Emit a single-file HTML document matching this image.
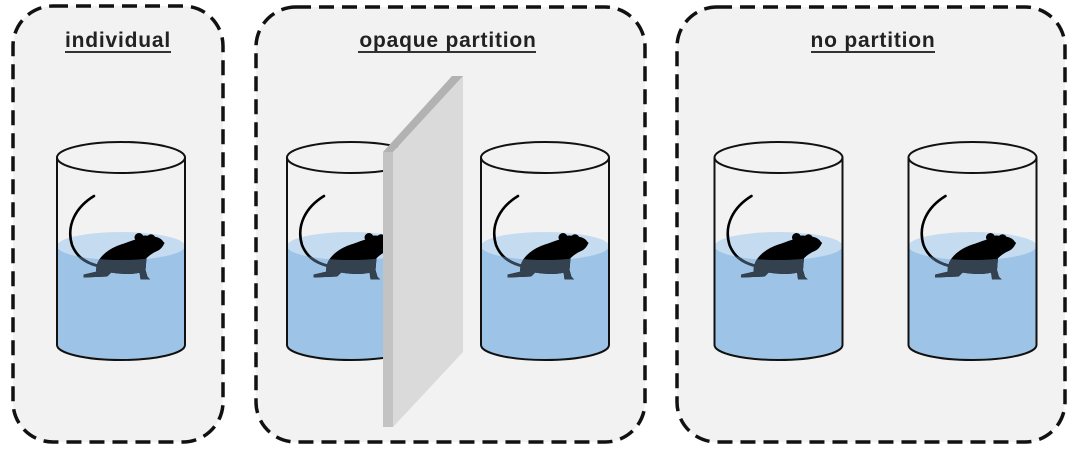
<!DOCTYPE html>
<html>
<head>
<meta charset="utf-8">
<style>
  html,body{margin:0;padding:0;background:#ffffff;}
  body{width:1076px;height:450px;overflow:hidden;}
  svg{display:block;}
  .t{font-family:"Liberation Sans",Arial,sans-serif;font-weight:bold;font-size:21px;fill:#222;letter-spacing:0.8px;}
</style>
</head>
<body>
<svg width="1076" height="450" viewBox="0 0 1076 450" xmlns="http://www.w3.org/2000/svg">
  <defs>
    <clipPath id="uw">
      <path d="M-64 246 A64 14 0 0 0 64 246 L64 345 A64 15 0 0 1 -64 345 Z"/>
    </clipPath>
    <g id="mouse">
      <path d="M-27 196 C-45 207,-55 225,-49 245 C-45 255,-38 262,-23 266" fill="none" stroke-width="2.6" stroke-linecap="round"/>
      <path d="M-23 263 C-20 256,-12 249,0 245 C6 243,11 241,15 240 C17 236,24 235,30 237 C36 238,40 240,43 243 C41 247,39 249,37 250 C32 252,28 255,25 258 L24 270 L26 277 L28 279 L20 279 L19 272 C12 274,0 274,-10 272 L-14 276 L-37 277 L-37 275 L-24 272 C-25 269,-24 266,-23 263 Z"/>
      <ellipse cx="31" cy="243.5" rx="11" ry="6.5"/>
      <circle cx="18" cy="237.5" r="4"/>
      <circle cx="30" cy="238.5" r="3.8"/>
    </g>
    <g id="cyl">
      <ellipse cx="0" cy="246" rx="64" ry="14" fill="#c5dcf0"/>
      <path d="M-64 246 A64 14 0 0 0 64 246 L64 345 A64 15 0 0 1 -64 345 Z" fill="#9dc3e6"/>
      <use href="#mouse" fill="#000" stroke="#000"/>
      <g clip-path="url(#uw)">
        <use href="#mouse" fill="#34414e" stroke="#34414e"/>
      </g>
      <ellipse cx="0" cy="157.5" rx="64" ry="15.5" fill="none" stroke="#111" stroke-width="2"/>
      <line x1="-64" y1="157.5" x2="-64" y2="345" stroke="#111" stroke-width="2"/>
      <line x1="64" y1="157.5" x2="64" y2="345" stroke="#111" stroke-width="2"/>
      <path d="M-64 345 A64 15 0 0 0 64 345" fill="none" stroke="#111" stroke-width="2"/>
    </g>
  </defs>

  <!-- panels -->
  <rect x="13" y="6" width="210" height="436" rx="40" ry="40" fill="#f2f2f2" stroke="#111" stroke-width="3.5" stroke-dasharray="15 8"/>
  <rect x="256" y="7" width="389" height="435" rx="40" ry="40" fill="#f2f2f2" stroke="#111" stroke-width="3.5" stroke-dasharray="15 8"/>
  <rect x="677" y="7" width="388" height="435" rx="40" ry="40" fill="#f2f2f2" stroke="#111" stroke-width="3.5" stroke-dasharray="15 8"/>

  <!-- titles -->
  <text class="t" x="118" y="47" text-anchor="middle">individual</text>
  <rect x="65" y="51" width="106" height="2" fill="#333"/>
  <text class="t" x="448" y="47" text-anchor="middle">opaque partition</text>
  <rect x="358" y="51" width="178" height="2" fill="#333"/>
  <text class="t" x="873" y="47" text-anchor="middle">no partition</text>
  <rect x="811" y="51" width="124" height="2" fill="#333"/>

  <!-- cylinders -->
  <use href="#cyl" transform="translate(121,0)"/>
  <use href="#cyl" transform="translate(351,0)"/>
  <use href="#cyl" transform="translate(545,0)"/>
  <use href="#cyl" transform="translate(778.5,0)"/>
  <use href="#cyl" transform="translate(972.5,0)"/>

  <!-- partition -->
  <polygon points="393,152 463,76 463,352 393,427" fill="#dadada"/>
  <polygon points="383,152 452,76 463,76 393,152" fill="#b2b2b2"/>
  <rect x="383" y="152" width="10" height="275" fill="#c3c3c3"/>
</svg>
</body>
</html>
